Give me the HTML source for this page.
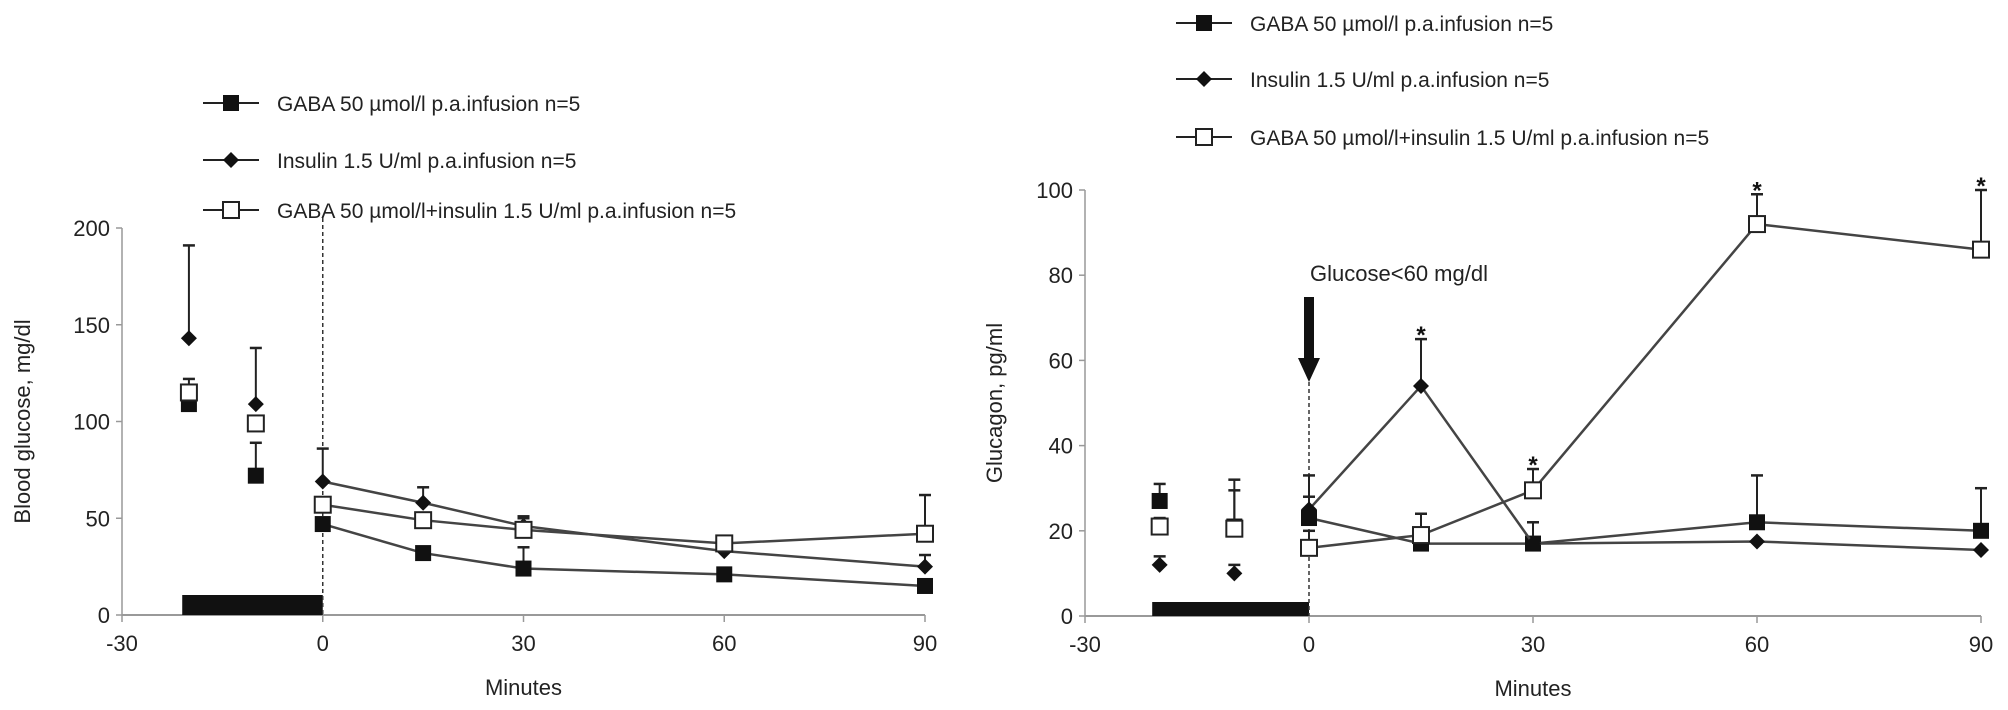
<!DOCTYPE html>
<html><head><meta charset="utf-8"><style>
html,body{margin:0;padding:0;background:#fff;}
svg{display:block;font-family:"Liberation Sans",Arial,sans-serif;}
</style></head><body>
<svg id="chart" width="2008" height="710" viewBox="0 0 2008 710" xmlns="http://www.w3.org/2000/svg"></svg>
<script>
const times = [-20, -10, 0, 15, 30, 60, 90];
// Left: blood glucose
const gluGaba = [109, 72, 47, 32, 24, 21, 15];
const gluGabaErr = [0, 17, 0, 0, 11, 0, 0];
const gluIns = [143, 109, 69, 58, 46, 33, 25];
const gluInsErr = [48, 29, 17, 8, 5, 0, 6];
const gluComb = [115, 99, 57, 49, 44, 37, 42];
const gluCombErr = [7, 0, 0, 0, 6, 0, 20];
const gluTicks = [0, 50, 100, 150, 200];
// Right: glucagon
const gcgGaba = [27, 21, 23, 17, 17, 22, 20];
const gcgGabaErr = [4, 11, 5, 0, 0, 11, 10];
const gcgIns = [12, 10, 25, 54, 17, 17.5, 15.5];
const gcgInsErr = [2, 2, 8, 11, 5, 0, 0];
const gcgComb = [21, 20.5, 16, 19, 29.5, 92, 86];
const gcgCombErr = [2, 9, 4, 5, 5, 7, 14];
const gcgStars = [15, 30, 60, 90];
const gcgTicks = [0, 20, 40, 60, 80, 100];
const xTicks = [-30, 0, 30, 60, 90];
const legendLabels = ["GABA 50 \u00b5mol/l p.a.infusion n=5", "Insulin 1.5 U/ml p.a.infusion n=5", "GABA 50 \u00b5mol/l+insulin 1.5 U/ml p.a.infusion n=5"];

const svg = document.getElementById('chart');
const NS = 'http://www.w3.org/2000/svg';
function mk(tag, attrs, parent, text) {
  const e = document.createElementNS(NS, tag);
  for (const k in attrs) e.setAttribute(k, attrs[k]);
  if (text !== undefined) e.textContent = text;
  (parent || svg).appendChild(e);
  return e;
}
const LC = '#444';

function marker(g, type, cx, cy) {
  let m;
  if (type === 0) m = mk('rect', {x: cx-8, y: cy-8, width: 16, height: 16, fill: '#111'}, g);
  else if (type === 1) m = mk('polygon', {points: `${cx},${cy-8} ${cx+8},${cy} ${cx},${cy+8} ${cx-8},${cy}`, fill: '#111'}, g);
  else m = mk('rect', {x: cx-8, y: cy-8, width: 16, height: 16, fill: '#fff', stroke: '#222', 'stroke-width': 2}, g);
  
  
}

function panel(o) {
  const g = mk('g', {});
  
  
  const X = v => o.x0 + (v - (-30)) / 120 * (o.x90 - o.x0);
  const Y = v => o.y0 - v / o.ymax * (o.y0 - o.ytop);
  const ya = mk('line', {x1: o.x0, y1: o.y0, x2: o.x0, y2: o.ytop, stroke: '#999', 'stroke-width': 1.5}, g);
   
  const xa = mk('line', {x1: o.x0, y1: o.y0, x2: o.x90, y2: o.y0, stroke: '#999', 'stroke-width': 2}, g);
   
  o.yticks.forEach(t => {
    mk('line', {x1: o.x0-6, y1: Y(t), x2: o.x0, y2: Y(t), stroke: '#999', 'stroke-width': 1.5}, g);
    const l = mk('text', {x: o.x0-12, y: Y(t)+8, 'text-anchor': 'end', 'font-size': 22, fill: '#222'}, g, t);
     
  });
  xTicks.forEach(t => {
    mk('line', {x1: X(t), y1: o.y0, x2: X(t), y2: o.y0+7, stroke: '#999', 'stroke-width': 1.5}, g);
    const l = mk('text', {x: X(t), y: o.y0+36, 'text-anchor': 'middle', 'font-size': 22, fill: '#222'}, g, t);
     
  });
  const xt = mk('text', {x: X(30), y: o.y0+80, 'text-anchor': 'middle', 'font-size': 22, fill: '#222'}, g, 'Minutes');
   
  const cy = (o.y0 + o.ytop) / 2;
  const yt = mk('text', {x: o.ytx, y: cy, 'text-anchor': 'middle', 'font-size': 22, fill: '#222', transform: `rotate(-90 ${o.ytx} ${cy})`}, g, o.ytitle);
   
  const bar = mk('rect', {x: X(-21), y: o.y0 - o.barH, width: X(0)-X(-21), height: o.barH, fill: '#111'}, g);
   
  const dl = mk('line', {x1: X(0), y1: o.dashTop, x2: X(0), y2: o.y0, stroke: '#333', 'stroke-width': 1.5, 'stroke-dasharray': '4,3'}, g);
   
  o.series.forEach((s, si) => {
    const sg = mk('g', {}, g);
    
    
    let pts = [];
    times.forEach((t, i) => { if (t >= 0) pts.push(X(t) + ',' + Y(s.v[i])); });
    const pl = mk('polyline', {points: pts.join(' '), fill: 'none', stroke: LC, 'stroke-width': 2.5}, sg);
     
    times.forEach((t, i) => {
      if (s.e[i] > 0) {
        const x = X(t), y1 = Y(s.v[i]), y2 = Y(s.v[i] + s.e[i]);
        mk('line', {x1: x, y1: y1, x2: x, y2: y2, stroke: '#222', 'stroke-width': 2}, sg);
        mk('line', {x1: x-6, y1: y2, x2: x+6, y2: y2, stroke: '#222', 'stroke-width': 2.5}, sg);
      }
    });
    times.forEach((t, i) => marker(sg, si, X(t), Y(s.v[i])));
  });
  o.legendY.forEach((ly, i) => {
    const lg = mk('g', {}, g);
     
    mk('line', {x1: o.legX, y1: ly, x2: o.legX+56, y2: ly, stroke: '#222', 'stroke-width': 2}, lg);
    marker(lg, i, o.legX+28, ly);
    mk('text', {x: o.legX+74, y: ly+8, 'font-size': 21, fill: '#222'}, lg, legendLabels[i]);
  });
  return {X, Y, g};
}

panel({name: 'blood-glucose-chart', x0: 122, x90: 925, y0: 615, ytop: 228, ymax: 200, yticks: gluTicks,
  ytitle: 'Blood glucose, mg/dl', ytx: 30, barH: 20, dashTop: 218,
  series: [{v: gluGaba, e: gluGabaErr}, {v: gluIns, e: gluInsErr}, {v: gluComb, e: gluCombErr}],
  legendY: [103, 160, 210], legX: 203});

const R = panel({name: 'glucagon-chart', x0: 1085, x90: 1981, y0: 616, ytop: 190, ymax: 100, yticks: gcgTicks,
  ytitle: 'Glucagon, pg/ml', ytx: 1002, barH: 14, dashTop: 382,
  series: [{v: gcgGaba, e: gcgGabaErr}, {v: gcgIns, e: gcgInsErr}, {v: gcgComb, e: gcgCombErr}],
  legendY: [23, 79, 137], legX: 1176});

gcgStars.forEach(t => {
  const i = times.indexOf(t);
  const top = Math.max(gcgGaba[i]+gcgGabaErr[i], gcgIns[i]+gcgInsErr[i], gcgComb[i]+gcgCombErr[i]);
  const s = mk('text', {x: R.X(t), y: R.Y(top) + 4, 'text-anchor': 'middle', 'font-size': 24, 'font-weight': 'bold', fill: '#111'}, R.g, '*');
  
  
});
const ax = R.X(0);
const arr = mk('path', {d: `M${ax-5},297 L${ax+5},297 L${ax+5},358 L${ax+11},358 L${ax},382 L${ax-11},358 L${ax-5},358 Z`, fill: '#111'}, R.g);


const at = mk('text', {x: ax+90, y: 281, 'text-anchor': 'middle', 'font-size': 22, fill: '#222'}, R.g, 'Glucose<60 mg/dl');


</script>
</body></html>
